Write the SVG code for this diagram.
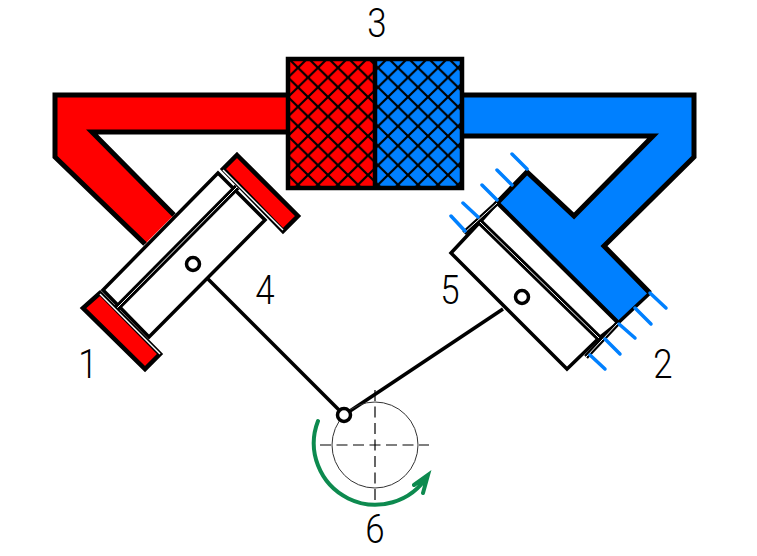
<svg xmlns="http://www.w3.org/2000/svg" width="757" height="556" viewBox="0 0 757 556">
<style>
.o{stroke:#000;stroke-width:5;stroke-linejoin:miter;fill:none}
.t{stroke:#000;stroke-width:3.5;fill:#fff}
.r{fill:#ff0000}
.b{fill:#0080ff}
.h{stroke:#0080ff;stroke-width:3.5;fill:none;stroke-linecap:round}
.l{stroke:#000;stroke-width:3.5;fill:none}
.c{stroke:#000;stroke-width:1.2;fill:none;stroke-dasharray:11 5.5}
text{font-family:"Roboto","Liberation Sans",sans-serif;font-weight:300;font-size:41px;fill:#000;text-anchor:middle}
</style>
<defs>
<pattern id="x" width="20" height="19.5" patternUnits="userSpaceOnUse" x="288" y="58">
<path d="M0 0L20 19.5M20 0L0 19.5" stroke="#000" stroke-width="2.2" fill="none"/>
</pattern>
</defs>
<g id="connectors">
<line class="l" x1="208" y1="279" x2="344" y2="415"/>
<line class="l" x1="503" y1="309" x2="344" y2="415"/>
</g>
<g id="red-pipe">
<path class="r" d="M55 95H290V132H92L174 215L145 244L55 157Z"/>
<path class="o" d="M288 95H55V157L145 244M288 132H92L174 215"/>
</g>
<g id="red-cylinder">
<path class="t" d="M218 173L103 290L149 337L265 220Z"/>
<path d="M117 308L237 187" stroke="#000" stroke-width="6.5"/>
<path d="M117 308L237 187" stroke="#fff" stroke-width="1"/>
<path d="M237 155L298 216L283 231L223 169Z" fill="#f00" stroke="#000" stroke-width="4.5"/>
<path d="M100 293L83 308L145 369L160 354Z" fill="#f00" stroke="#000" stroke-width="4.5"/>
<path d="M223 170L283 230" stroke="#fff" stroke-width="1.5"/>
<path d="M100 294L160 354" stroke="#fff" stroke-width="1.5"/>
<circle cx="193" cy="264" r="6.5" fill="#fff" stroke="#000" stroke-width="3.5"/>
</g>
<g id="blue-pipe">
<path class="b" d="M460 95H695V157L604 246L650 293L618 323L497 203L527 172L574 216L653 136H460Z"/>
<path class="o" d="M462 95H694V157L604 246L650 293M462 136H653L574 216L527 172L497 203L618 323"/>
<path d="M650 293L618 323M527 172L497 203" stroke="#000" stroke-width="3.5"/>
</g>
<g id="blue-cylinder">
<path class="t" d="M497 203L480 222L451 253L567 369L599 338L618 323Z"/>
<path d="M480 222L599 338" stroke="#000" stroke-width="6.5"/>
<path d="M480 222L599 338" stroke="#fff" stroke-width="1"/>
<path d="M464 233L497 203M586 357L618 323" stroke="#000" stroke-width="5"/>
<path d="M464 233L497 203M586 357L618 323" stroke="#fff" stroke-width="1"/>
<circle cx="522" cy="297" r="6.5" fill="#fff" stroke="#000" stroke-width="3.5"/>
<g class="h">
<path d="M451 216L465 231M463 203L478 217M482 185L497 200M497 170L512 185M512 154L527 169"/>
<path d="M650 293L666 308M635 308L651 324M619 324L635 338M605 339L620 354M590 355L605 369"/>
</g>
</g>
<g id="heat-exchanger">
<rect x="288" y="58" width="87" height="130" fill="#f00"/>
<rect x="375" y="58" width="87" height="130" fill="#0080ff"/>
<rect x="288" y="58" width="174" height="130" fill="url(#x)"/>
<rect x="288" y="59" width="174" height="129" fill="none" stroke="#000" stroke-width="4.5"/>
<line x1="375" y1="58" x2="375" y2="188" stroke="#000" stroke-width="4.5"/>
</g>
<g id="crank">
<circle cx="375" cy="445" r="43" fill="none" stroke="#333" stroke-width="1"/>
<path class="c" d="M320 445H429M375 390V500"/>
<circle cx="344" cy="415" r="6.5" fill="#fff" stroke="#000" stroke-width="3.5"/>
<path d="M318 421A61.5 61.5 0 0 0 428 475M414 485L428 475L423 493" fill="none" stroke="#0d8a4f" stroke-width="4" stroke-linecap="round"/>
</g>
<g id="labels">
<text transform="translate(88 378) scale(.85 1)">1</text>
<text transform="translate(663 378) scale(.85 1)">2</text>
<text transform="translate(377 37) scale(.85 1)">3</text>
<text transform="translate(265 304) scale(.85 1)">4</text>
<text transform="translate(450 304) scale(.85 1)">5</text>
<text transform="translate(375 543) scale(.85 1)">6</text>
</g>
</svg>
